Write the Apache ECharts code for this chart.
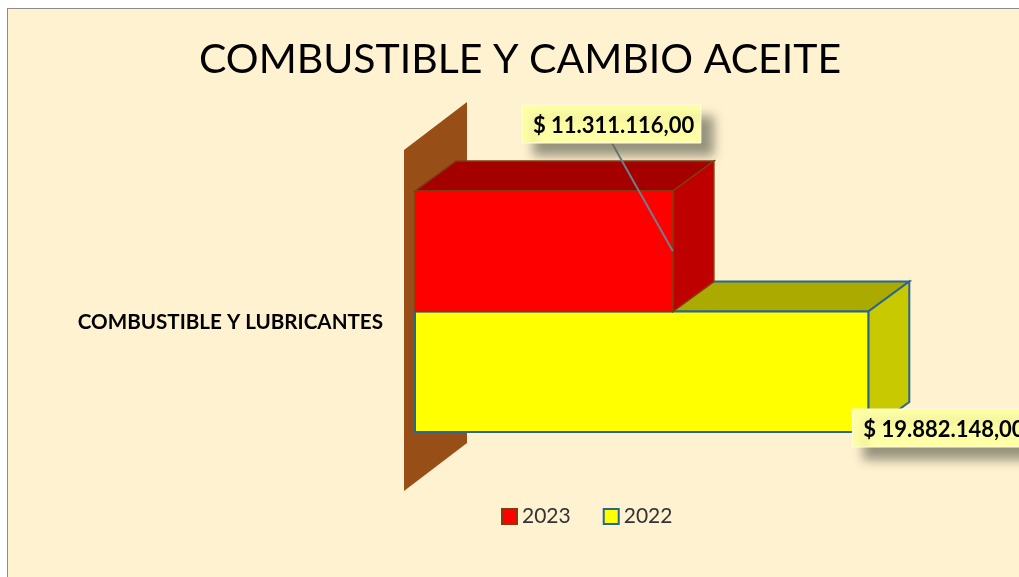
<!DOCTYPE html>
<html>
<head>
    <meta charset="utf-8">
    <title>COMBUSTIBLE Y CAMBIO ACEITE</title>
    <script type="text/javascript" src="https://cdn.jsdelivr.net/npm/echarts@6/dist/echarts.min.js"></script>
    <style>
        html, body { margin: 0; padding: 0; background: #fff; overflow: hidden; }
        #frame { position: absolute; left: 7px; top: 8px; right: 0; bottom: 0; background: #FFF2D0; border-left: 1px solid #8c8c8c; border-top: 1px solid #8c8c8c; }
        #main { position: absolute; left: 0; top: 0; width: 1019px; height: 577px; }
    </style>
</head>
<body>
    <div id="frame"></div>
    <div id="main"></div>
    <script type="text/javascript">
        var titleText = 'COMBUSTIBLE Y CAMBIO ACEITE';
        var categories = ['COMBUSTIBLE Y LUBRICANTES'];
        var seriesNames = ['2023', '2022'];
        var values2023 = [11311116];
        var values2022 = [19882148];

        var fontName = 'Lato';
        var depthX = 41, depthY = 30;

        // 12345678 -> $ 12.345.678,00
        function money(v) {
            return '$ ' + String(v).replace(/\B(?=(\d{3})+$)/g, '.') + ',00';
        }

        // caja amarilla con sombra
        function labelBox(left, top, text) {
            return [
                {
                    type: 'rect',
                    shape: { x: left, y: top, width: 179, height: 38 },
                    style: { fill: '#FFFFA6', stroke: '#FFFFE0', lineWidth: 1, shadowBlur: 10, shadowOffsetX: 12, shadowOffsetY: 12, shadowColor: 'rgba(105,105,90,0.7)' },
                    z2: 20
                },
                {
                    type: 'text',
                    style: { x: left + 11, y: top + 21, text: text, fill: '#000', font: 'bold 22px ' + fontName, textVerticalAlign: 'middle' },
                    z2: 21
                }
            ];
        }

        function renderBar(colors, isTop) {
            return function (params, api) {
                var start = api.coord([0, api.value(1)]);
                var end = api.coord([api.value(0), api.value(1)]);
                var band = api.size([0, 1])[1];
                var x0 = start[0], x1 = end[0];
                var y0 = isTop ? end[1] - band / 2 : end[1];
                var y1 = y0 + band / 2;
                var line = { stroke: colors.border, lineWidth: colors.lineWidth };
                var children = [
                    {
                        type: 'polygon',
                        shape: { points: [[x0, y0], [x0 + depthX, y0 - depthY], [x1 + depthX, y0 - depthY], [x1, y0]] },
                        style: { fill: colors.top, stroke: line.stroke, lineWidth: line.lineWidth }
                    },
                    {
                        type: 'polygon',
                        shape: { points: [[x1, y0], [x1 + depthX, y0 - depthY], [x1 + depthX, y1 - depthY], [x1, y1]] },
                        style: { fill: colors.side, stroke: line.stroke, lineWidth: line.lineWidth }
                    },
                    {
                        type: 'rect',
                        shape: { x: x0, y: y0, width: x1 - x0, height: y1 - y0 },
                        style: { fill: colors.front, stroke: line.stroke, lineWidth: line.lineWidth }
                    }
                ];
                var text = money(api.value(0));
                if (isTop) {
                    children.push({
                        type: 'line',
                        shape: { x1: x1 - 61, y1: y0 - 48, x2: x1, y2: (y0 + y1) / 2 },
                        style: { stroke: '#6E7F8C', lineWidth: 2 },
                        z2: 15
                    });
                    children = children.concat(labelBox(x1 - 151, y0 - 86, text));
                } else {
                    children = children.concat(labelBox(x1 - 16, y1 - 23, text));
                }
                return { type: 'group', children: children };
            };
        }

        // pared del fondo
        function renderWall(params, api) {
            var c = api.coord([0, api.value(1)]);
            var band = api.size([0, 1])[1];
            var top = c[1] - band / 2, bottom = c[1] + band / 2;
            var x = c[0];
            return {
                type: 'polygon',
                shape: { points: [[x - 11, top - 41], [x + 52, top - 89], [x + 52, bottom + 11], [x - 11, bottom + 59]] },
                style: { fill: '#984E17' }
            };
        }

        var myChart = echarts.init(document.getElementById('main'));
        var option = {
            animation: false,
            title: {
                text: titleText,
                left: 194,
                top: 34,
                textStyle: { fontFamily: fontName, fontSize: 41, fontWeight: 'normal', color: '#000' }
            },
            legend: {
                data: seriesNames,
                left: 501,
                top: 506,
                padding: 0,
                itemWidth: 15,
                itemHeight: 15,
                itemGap: 32,
                icon: 'rect',
                textStyle: { fontFamily: fontName, fontSize: 21, color: '#333' }
            },
            grid: { left: 415, top: 191, width: 570, height: 241 },
            xAxis: { type: 'value', min: 0, max: 25000000, show: false },
            yAxis: {
                type: 'category',
                data: categories,
                axisLine: { show: false },
                axisTick: { show: false },
                axisLabel: {
                    margin: 32,
                    verticalAlign: 'top',
                    fontFamily: fontName,
                    fontWeight: 'bold',
                    fontSize: 20.6,
                    color: '#000'
                }
            },
            series: [
                {
                    name: 'pared',
                    type: 'custom',
                    z: 1,
                    silent: true,
                    renderItem: renderWall,
                    encode: { x: 0, y: 1 },
                    data: [[0, 0]]
                },
                {
                    name: seriesNames[1],
                    type: 'custom',
                    z: 2,
                    itemStyle: { color: '#FFFF00', borderColor: '#2B6591', borderWidth: 2 },
                    renderItem: renderBar({ front: '#FFFF00', side: '#C9C900', top: '#AAAA00', border: '#2B6591', lineWidth: 2 }, false),
                    encode: { x: 0, y: 1 },
                    data: values2022.map(function (v, i) { return [v, i]; })
                },
                {
                    name: seriesNames[0],
                    type: 'custom',
                    z: 3,
                    itemStyle: { color: '#FF0000', borderColor: '#843C0C', borderWidth: 2 },
                    renderItem: renderBar({ front: '#FF0000', side: '#BF0000', top: '#A50000', border: '#843C0C', lineWidth: 1.5 }, true),
                    encode: { x: 0, y: 1 },
                    data: values2023.map(function (v, i) { return [v, i]; })
                }
            ]
        };
        myChart.setOption(option);
    </script>
</body>
</html>
